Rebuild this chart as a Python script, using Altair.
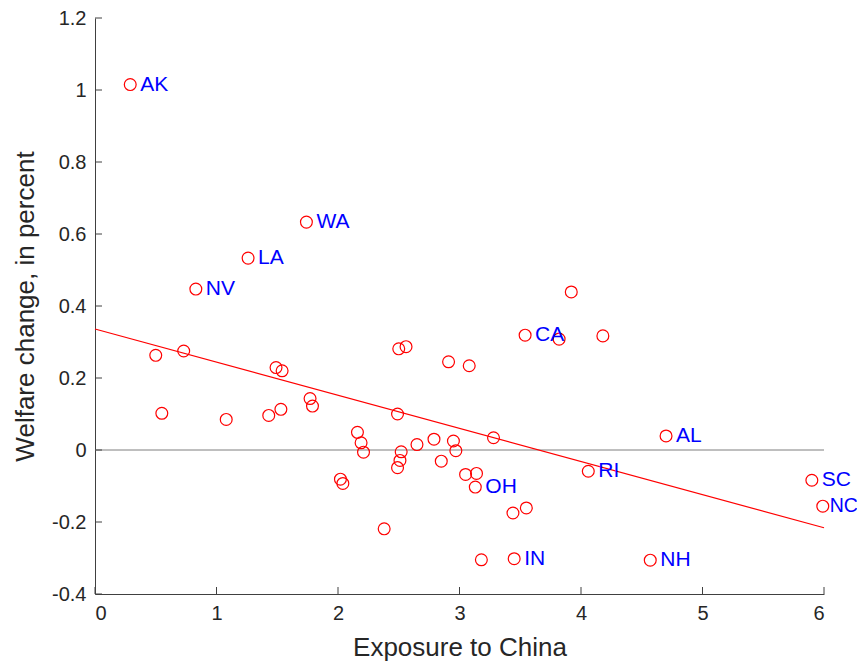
import altair as alt
import pandas as pd

# Data
x_vals = [0.29, 1.74, 1.26, 0.83, 0.50, 0.73, 0.55, 1.08, 1.49, 1.54,
          1.43, 1.53, 1.77, 1.79, 2.16, 2.19, 2.21, 2.02, 2.04, 2.38,
          2.50, 2.56, 2.91, 3.08, 3.54, 3.82, 3.92, 4.18, 2.49, 3.28,
          2.65, 2.79, 2.95, 2.97, 2.52, 2.51, 2.49, 2.85, 3.05, 3.14,
          3.13, 3.44, 3.55, 3.18, 3.45, 4.06, 4.70, 5.90, 5.99, 4.57]
y_vals = [1.015, 0.633, 0.533, 0.447, 0.263, 0.275, 0.102, 0.085, 0.229, 0.220,
          0.096, 0.113, 0.143, 0.122, 0.049, 0.020, -0.006, -0.081, -0.093, -0.219,
          0.281, 0.287, 0.245, 0.234, 0.319, 0.308, 0.439, 0.317, 0.100, 0.034,
          0.015, 0.030, 0.025, -0.002, -0.005, -0.029, -0.049, -0.031, -0.068, -0.065,
          -0.103, -0.175, -0.161, -0.305, -0.302, -0.059, 0.039, -0.084, -0.156, -0.306]
labels = ["AK", "WA", "LA", "NV", "", "", "", "", "", "",
          "", "", "", "", "", "", "", "", "", "",
          "", "", "", "", "CA", "", "", "", "", "",
          "", "", "", "", "", "", "", "", "", "",
          "OH", "", "", "", "IN", "RI", "AL", "SC", "NC", "NH"]
edge_labels = ["NC"]
fit_x = [0, 6]
fit_y = [0.336, -0.216]
x_ticks = [0, 1, 2, 3, 4, 5, 6]
y_ticks = [-0.4, -0.2, 0, 0.2, 0.4, 0.6, 0.8, 1.0, 1.2]

df = pd.DataFrame({"x": x_vals, "y": y_vals, "label": labels})
lab_df = df[(df["label"] != "") & (~df["label"].isin(edge_labels))]
edge_df = df[df["label"].isin(edge_labels)]
fit_df = pd.DataFrame({"x": fit_x, "y": fit_y})
xt_df = pd.DataFrame({"x": x_ticks})
yt_df = pd.DataFrame({"y": y_ticks})
zero_df = pd.DataFrame({"y": [0]})

W, H = 729, 576
FONT = "Liberation Sans"
TXT = "#262626"

xs = alt.Scale(domain=[0, 6], nice=False, zero=False)
ys = alt.Scale(domain=[-0.4, 1.2], nice=False, zero=False)

xaxis = alt.Axis(values=x_ticks, title="Exposure to China", grid=False, ticks=False,
                 tickSize=0, labelPadding=9, labelFontSize=20, titleFontSize=26,
                 titleFontWeight="normal", titleY=61, titleBaseline="alphabetic",
                 format="d")
yaxis = alt.Axis(values=y_ticks, title="Welfare change, in percent", grid=False,
                 ticks=False, tickSize=0, labelPadding=9, labelFontSize=20,
                 titleFontSize=26, titleFontWeight="normal", titleX=-62,
                 titleY=H / 2, titleAngle=270, titleAlign="center",
                 titleBaseline="alphabetic",
                 labelExpr="datum.value == 0 ? '0' : toString(round(datum.value*10)/10)")

X = lambda f: alt.X(f, type="quantitative", scale=xs, axis=xaxis)
Y = lambda f: alt.Y(f, type="quantitative", scale=ys, axis=yaxis)

zero = alt.Chart(zero_df).mark_rule(color="#7f7f7f", strokeWidth=1).encode(
    y=Y("y"), x=alt.value(0), x2=alt.value(W))

fit = alt.Chart(fit_df).mark_line(color="#ff0000", strokeWidth=1.2).encode(
    x=X("x"), y=Y("y"))

pts = alt.Chart(df).mark_point(shape="circle", filled=False, color="#ff0000",
                               size=140, strokeWidth=1.2, opacity=1).encode(
    x=X("x"), y=Y("y"))

txt = alt.Chart(lab_df).mark_text(align="left", baseline="middle", dx=10,
                                  fontSize=21, color="#0000ff", font=FONT).encode(
    x=X("x"), y=Y("y"), text="label:N")

txt_edge = alt.Chart(edge_df).mark_text(align="left", baseline="middle", dx=7,
                                        fontSize=19.5, color="#0000ff", font=FONT).encode(
    x=X("x"), y=Y("y"), text="label:N")

xt = alt.Chart(xt_df).mark_rule(color="#404040", strokeWidth=1).encode(
    x=X("x"), y=alt.value(H), y2=alt.value(H - 7))

yt = alt.Chart(yt_df).mark_rule(color="#404040", strokeWidth=1).encode(
    y=Y("y"), x=alt.value(0), x2=alt.value(7))

chart = alt.layer(zero, fit, pts, txt, txt_edge, xt, yt).properties(
    width=W, height=H,
    autosize=alt.AutoSizeParams(type="none"),
    padding={"left": 87, "top": 10, "right": 33, "bottom": 67},
).configure_view(stroke=None).configure_axis(
    domainColor="#404040", domainWidth=1, labelColor=TXT, titleColor=TXT,
    labelFont=FONT, titleFont=FONT
)

chart.save("out.html", embed_options={"renderer": "svg", "actions": False})
